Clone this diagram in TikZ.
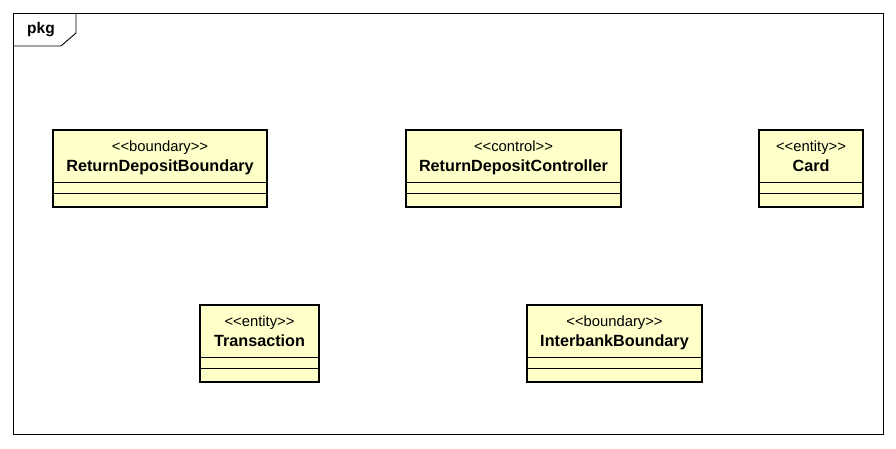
\documentclass[tikz,border=0pt]{standalone}
\usepackage{fontspec}
\setmainfont{Liberation Sans}[Ligatures=TeXOff]
\usepackage{tikz}
\usetikzlibrary{positioning}

\definecolor{classfill}{RGB}{255,255,202}

\tikzset{
  classbox/.style={draw=black,fill=classfill,line width=2.6pt,inner sep=0pt,minimum height=77pt},
  stereo/.style={inner sep=0pt,anchor=base,font=\fontsize{14.8}{16}\selectfont},
  cname/.style={inner sep=0pt,anchor=base,font=\fontsize{16.2}{18}\selectfont\bfseries},
  sep/.style={draw=black,line width=0.8pt}
}

\begin{document}
\begin{tikzpicture}[x=1pt,y=-1pt]
            \useasboundingbox (0,0) rectangle (896,448);

            % package frame
            \coordinate (fnw) at (13,13);
            \coordinate (fse) at (883,434);
            \draw[line width=0.9pt] (fnw) rectangle (fse);
            \draw[line width=0.9pt] (76,13) -- (76,33) -- (61,46) -- (13,46);
            \node[inner sep=0pt,font=\fontsize{15.5}{17}\selectfont\bfseries] (pkg) at (41,30) {pkg};

            % classes
            \node[classbox,minimum width=214pt] (rdb) at (160,168.5) {};
            \node[classbox,minimum width=215pt] (rdc) at (513.5,168.5) {};
            \node[classbox,minimum width=104pt] (card) at (811,168.5) {};
            \node[classbox,minimum width=119pt] (trans) at (259.5,343.5) {};
            \node[classbox,minimum width=175pt] (ibb) at (614.5,343.5) {};

            \node[stereo] (rdbS) at ([yshift=-23pt]rdb.north) {<<boundary>>};
            \node[cname] (rdbN) at ([yshift=-43pt]rdb.north) {ReturnDepositBoundary};
            \node[stereo] (rdcS) at ([yshift=-23pt]rdc.north) {<<control>>};
            \node[cname] (rdcN) at ([yshift=-43pt]rdc.north) {ReturnDepositController};
            \node[stereo] (cardS) at ([yshift=-23pt]card.north) {<<entity>>};
            \node[cname] (cardN) at ([yshift=-43pt]card.north) {Card};
            \node[stereo] (transS) at ([yshift=-23pt]trans.north) {<<entity>>};
            \node[cname] (transN) at ([yshift=-43pt]trans.north) {Transaction};
            \node[stereo] (ibbS) at ([yshift=-23pt]ibb.north) {<<boundary>>};
            \node[cname] (ibbN) at ([yshift=-43pt]ibb.north) {InterbankBoundary};

            % compartments
            \foreach \c in {rdb,rdc,card,trans,ibb} {
              \draw[sep] ([yshift=26pt]\c.south west) -- ([yshift=26pt]\c.south east);
              \draw[sep] ([yshift=15pt]\c.south west) -- ([yshift=15pt]\c.south east);
            }
\end{tikzpicture}
\end{document}
